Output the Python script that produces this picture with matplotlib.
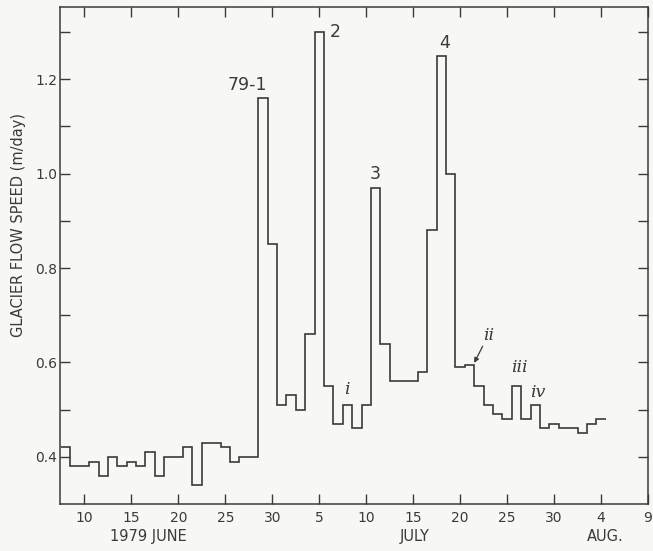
#!/usr/bin/env python3
# -*- coding: utf-8 -*-
"""
Glacier flow speed, June - August 1979 (daily means, step plot)
"""
import matplotlib
matplotlib.use("Agg")
import matplotlib.pyplot as plt
import numpy as np

#%%
#------------------------ data -----------------------------------------------#
# day numbers counted from 1 June (1 July = 31, 1 Aug = 62)
june_days = list(range(8, 31))
july_days = list(range(31, 62))
aug_days = list(range(62, 66))

june_speed = [0.42, 0.38, 0.38, 0.39, 0.36, 0.40, 0.38, 0.39, 0.38, 0.41,
              0.36, 0.40, 0.40, 0.42, 0.34, 0.43, 0.43, 0.42, 0.39, 0.40,
              0.40, 1.16, 0.85]
july_speed = [0.51, 0.53, 0.50, 0.66, 1.30, 0.55, 0.47, 0.51, 0.46, 0.51,
              0.97, 0.64, 0.56, 0.56, 0.56, 0.58, 0.88, 1.25, 1.00, 0.59,
              0.595, 0.55, 0.51, 0.49, 0.48, 0.55, 0.48, 0.51, 0.46, 0.47,
              0.46]
aug_speed = [0.46, 0.45, 0.47, 0.48]

tick_days = [10, 15, 20, 25, 30, 35, 40, 45, 50, 55, 60, 65, 70]
tick_labels = ['10', '15', '20', '25', '30', '5', '10', '15', '20', '25',
               '30', '4', '9']

# event labels: (text, day, speed, italic)
events = [('79-1', 27.3, 1.188, False),
          ('2', 36.7, 1.300, False),
          ('3', 40.95, 1.000, False),
          ('4', 48.3, 1.277, False),
          ('i', 37.96, 0.542, True),
          ('iii', 56.3, 0.589, True),
          ('iv', 58.3, 0.536, True)]

#%%
INK = '#3a3a3a'
BG = '#f7f8f6'

days = np.array(june_days + july_days + aug_days)
speed = np.array(june_speed + july_speed + aug_speed)
edges = np.append(days - 0.5, days[-1] + 0.5)

fig = plt.figure(figsize=(6.53, 5.51), dpi=100, facecolor=BG)
ax = fig.add_axes([60 / 653, 47 / 551, 588 / 653, 497 / 551])
ax.set_facecolor(BG)

ax.stairs(speed, edges, baseline=None, color=INK, lw=1.2)

ax.set_xlim(7.4, 70)
ax.set_ylim(0.3, 1.353)

ax.set_xticks(tick_days)
ax.set_xticklabels(tick_labels)
ax.set_yticks([0.4, 0.6, 0.8, 1.0, 1.2])
ax.set_yticklabels(['0.4', '0.6', '0.8', '1.0', '1.2'])
ax.set_yticks([0.5, 0.7, 0.9, 1.1, 1.3], minor=True)

ax.tick_params(which='both', direction='in', length=7, width=1.0,
               color=INK, labelcolor=INK, labelsize=10,
               top=True, right=True)
ax.tick_params(axis='x', pad=5)
ax.tick_params(axis='y', pad=2)
for s in ax.spines.values():
    s.set_color(INK)
    s.set_linewidth(1.1)

ax.set_ylabel('GLACIER FLOW SPEED (m/day)', fontsize=10.5, color=INK)
ax.yaxis.set_label_coords(-0.057, 0.561)

# month names under the tick labels
trans = ax.get_xaxis_transform()
ax.text(16.77, -0.066, '1979 JUNE', transform=trans, ha='center',
        va='center', fontsize=10.5, color=INK)
ax.text(45.2, -0.066, 'JULY', transform=trans, ha='center',
        va='center', fontsize=10.5, color=INK)
ax.text(65.44, -0.066, 'AUG.', transform=trans, ha='center',
        va='center', fontsize=10.5, color=INK)

for txt, x, y, it in events:
    ax.text(x, y, txt, ha='center', va='center', color=INK,
            fontsize=12.5,
            style='italic' if it else 'normal',
            family='DejaVu Serif' if it else 'DejaVu Sans')

# "ii" with its little arrow pointing at 21 July
ax.annotate('ii', xy=(51.5, 0.599), xytext=(53.0, 0.658),
            ha='center', va='center', fontsize=12.5, style='italic',
            family='DejaVu Serif', color=INK,
            arrowprops=dict(arrowstyle='-|>', color=INK, lw=0.9,
                            shrinkA=0, shrinkB=0, mutation_scale=7))

fig.savefig('out.png', dpi=100, facecolor=BG)
